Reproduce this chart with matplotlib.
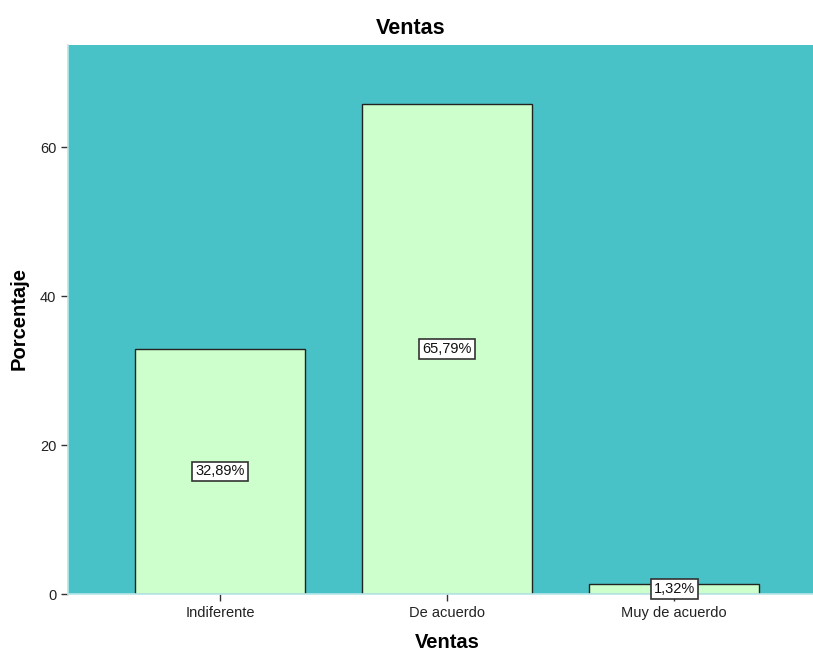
import matplotlib
matplotlib.use("Agg")
import matplotlib.pyplot as plt

categories = ["Indiferente", "De acuerdo", "Muy de acuerdo"]
percentages = [32.89, 65.79, 1.32]
labels = ["32,89%", "65,79%", "1,32%"]
yticks = [0, 20, 40, 60]

plt.rcParams["font.family"] = ["Liberation Sans", "DejaVu Sans"]

fig = plt.figure(figsize=(8.13, 6.51), dpi=100)
ax = fig.add_axes([68 / 813, 57 / 651, 745 / 813, 549 / 651])
ax.set_facecolor("#48C2C6")

x = list(range(len(categories)))
ax.bar(x, percentages, width=0.75, color="#CCFFCC", edgecolor="#222222", linewidth=1.0, zorder=2)

for xi, v, lab in zip(x, percentages, labels):
    ax.text(xi, v / 2, lab, ha="center", va="center", fontsize=10.5, color="#111111", zorder=4,
            bbox=dict(boxstyle="square,pad=0.2", facecolor="white", edgecolor="#333333", linewidth=1.2))

ax.set_xlim(-0.67, 2.612)
ax.set_ylim(0, 73.7)
ax.set_xticks(x)
ax.set_xticklabels(categories, fontsize=10.5, color="#222222")
ax.set_yticks(yticks)
ax.set_yticklabels([str(t) for t in yticks], fontsize=10.5, color="#222222")
ax.tick_params(axis="both", direction="out", length=5, width=1, color="#333333")

for side in ["top", "right"]:
    ax.spines[side].set_visible(False)
for side in ["left", "bottom"]:
    ax.spines[side].set_color("#B8E6E8")
    ax.spines[side].set_linewidth(1.2)

fig.text(411 / 813, 1 - 28 / 651, "Ventas", ha="center", va="center", fontsize=15.5, fontweight="bold")
fig.text(447 / 813, 1 - 643 / 651, "Ventas", ha="center", va="center", fontsize=14.5, fontweight="bold")
fig.text(19 / 813, 1 - 319 / 651, "Porcentaje", ha="center", va="center", rotation=90,
         fontsize=14.5, fontweight="bold")

fig.savefig("out.png", dpi=100)
